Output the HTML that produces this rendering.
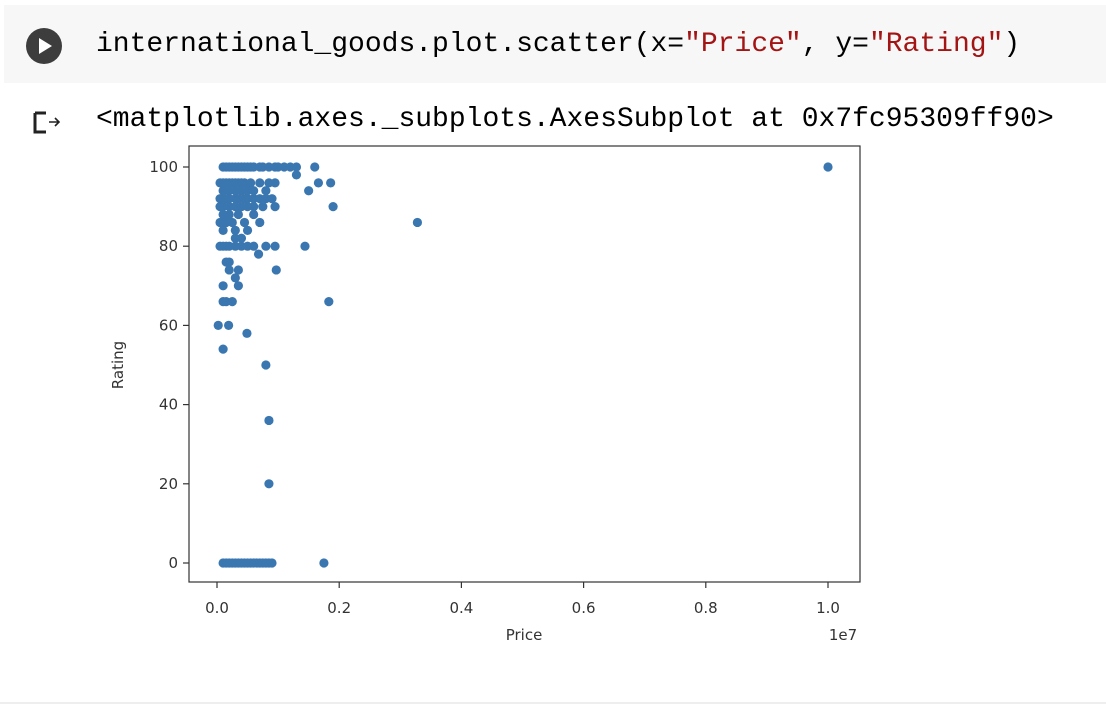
<!DOCTYPE html>
<html><head><meta charset="utf-8">
<style>
body{margin:0;width:1106px;height:706px;background:#fff;overflow:hidden;position:relative;font-family:"DejaVu Sans",sans-serif}
.cell{position:absolute;left:4px;top:5px;width:1102px;height:78px;background:#f7f7f7}
.code{position:absolute;left:96px;top:28px;font-family:"Liberation Mono",monospace;font-size:28px;line-height:34px;color:#000;white-space:pre}
.str{color:#a31515}
.out{position:absolute;left:96px;top:104px;font-family:"Liberation Mono",monospace;font-size:28px;line-height:32px;color:#000;white-space:pre}
</style></head><body>
<div class="cell"></div>
<svg style="position:absolute;left:25px;top:27px" width="40" height="40"><circle cx="19" cy="19" r="18" fill="#3d3d3d"/><path d="M14 11 L27 19 L14 27 Z" fill="#fff"/></svg>
<div class="code">international_goods.plot.scatter(x=<span class="str">"Price"</span>, y=<span class="str">"Rating"</span>)</div>
<svg style="position:absolute;left:32px;top:110px" width="32" height="26"><path d="M3 3 H14 M3 3 V22 H14" stroke="#222" stroke-width="3" fill="none"/><path d="M17 12 H27 M23 8 L27 12 L23 16" stroke="#222" stroke-width="1.6" fill="none"/></svg>
<div class="out">&lt;matplotlib.axes._subplots.AxesSubplot at 0x7fc95309ff90&gt;</div>
<div style="position:absolute;left:0;top:702px;width:1106px;height:2px;background:#eee"></div>
<svg id="chart" style="position:absolute;left:0;top:0" width="1106" height="706"></svg>
<script>
const prices=[0.1,0.15,0.2,0.25,0.3,0.35,0.4,0.45,0.5,0.55,0.6,0.7,0.75,0.85,0.95,1.0,1.1,1.2,1.3,1.6,10.0,
1.3,
0.05,0.1,0.15,0.2,0.25,0.3,0.35,0.4,0.45,0.55,0.7,0.85,0.95,1.66,1.86,
0.1,0.2,0.3,0.4,0.5,0.6,0.8,1.5,
0.05,0.1,0.15,0.2,0.3,0.35,0.45,0.5,0.6,0.7,0.8,0.9,
0.05,0.1,0.2,0.3,0.4,0.5,0.6,0.75,0.95,1.9,
0.1,0.2,0.35,0.6,
0.05,0.15,0.25,0.45,0.7,3.28,
0.1,0.3,0.5,
0.3,0.4,
0.05,0.1,0.15,0.2,0.3,0.4,0.5,0.6,0.8,0.95,1.44,
0.68,0.15,0.2,0.2,0.35,0.97,0.3,0.1,0.35,0.1,0.15,0.25,1.83,0.02,0.19,0.49,0.1,0.8,0.85,0.85,
0.1,0.15,0.2,0.25,0.3,0.35,0.4,0.45,0.5,0.55,0.6,0.65,0.7,0.75,0.8,0.85,0.9,1.75];
const ratings=[100,100,100,100,100,100,100,100,100,100,100,100,100,100,100,100,100,100,100,100,100,
98,
96,96,96,96,96,96,96,96,96,96,96,96,96,96,96,
94,94,94,94,94,94,94,94,
92,92,92,92,92,92,92,92,92,92,92,92,
90,90,90,90,90,90,90,90,90,90,
88,88,88,88,
86,86,86,86,86,86,
84,84,84,
82,82,
80,80,80,80,80,80,80,80,80,80,80,
78,76,76,74,74,74,72,70,70,66,66,66,66,60,60,58,54,50,36,20,
0,0,0,0,0,0,0,0,0,0,0,0,0,0,0,0,0,0];
const xTicks=[0,0.2,0.4,0.6,0.8,1.0];
const yTicks=[0,20,40,60,80,100];
const NS='http://www.w3.org/2000/svg';
const svg=document.getElementById('chart');
const L=189,R=860,T=146,B=582;
const X=p=>217+p*61.1; // p in 1e6
const Y=r=>563-r*3.96;
function mk(t,a){const e=document.createElementNS(NS,t);for(const k in a)e.setAttribute(k,a[k]);svg.appendChild(e);return e;}
prices.forEach((p,i)=>{
 const c=mk('circle',{cx:X(p),cy:Y(ratings[i]),r:4.6,fill:'#3a76b0'});
 
 
});
const f=mk('rect',{x:L,y:T,width:R-L,height:B-T,fill:'none',stroke:'#333','stroke-width':1.2});


xTicks.forEach(t=>{
 const x=X(t*10);
 mk('line',{x1:x,x2:x,y1:B,y2:B+6,stroke:'#333','stroke-width':1.2});
 const tx=mk('text',{x:x,y:B+31,'text-anchor':'middle','font-size':15,fill:'#333','font-family':'DejaVu Sans, sans-serif'});
 tx.textContent=t.toFixed(1);
 
 
});
yTicks.forEach(t=>{
 const y=Y(t);
 mk('line',{x1:L-6,x2:L,y1:y,y2:y,stroke:'#333','stroke-width':1.2});
 const tx=mk('text',{x:L-11,y:y+5,'text-anchor':'end','font-size':15,fill:'#333','font-family':'DejaVu Sans, sans-serif'});
 tx.textContent=t;
 
 
});
const xl=mk('text',{x:524,y:640,'text-anchor':'middle','font-size':15,fill:'#333','font-family':'DejaVu Sans, sans-serif'});
xl.textContent='Price';


const ex=mk('text',{x:843,y:640,'text-anchor':'middle','font-size':15,fill:'#333','font-family':'DejaVu Sans, sans-serif'});
ex.textContent='1e7';


const yl=mk('text',{x:0,y:0,'text-anchor':'middle','font-size':15,fill:'#333','font-family':'DejaVu Sans, sans-serif',transform:'translate(123,365) rotate(-90)'});
yl.textContent='Rating';


</script>
</body></html>
